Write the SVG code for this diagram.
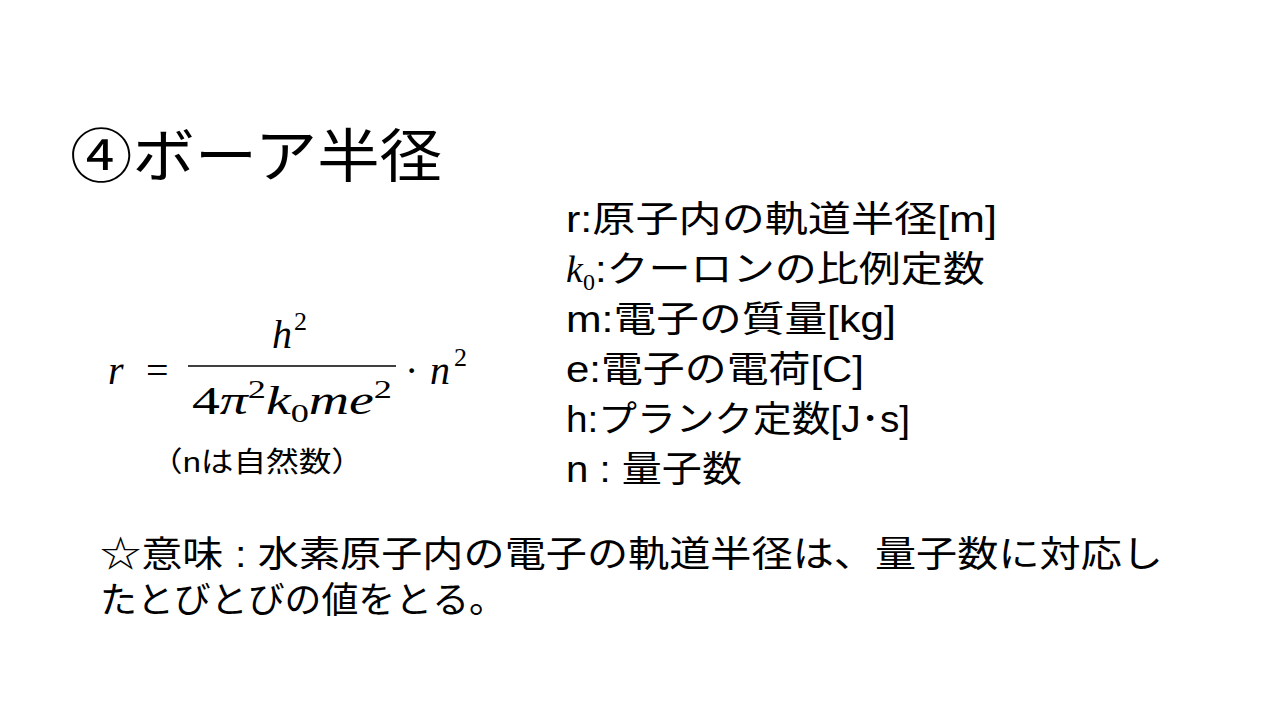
<svg xmlns="http://www.w3.org/2000/svg" width="1280" height="720" viewBox="0 0 1280 720">
<style>
.j{font-family:"Liberation Sans","Noto Sans CJK JP",sans-serif;fill:#000}
.m{font-family:"Liberation Serif","DejaVu Serif",serif;font-style:italic;fill:#000}
.u{font-family:"Liberation Serif","DejaVu Serif",serif;fill:#000}
</style>
<rect width="1280" height="720" fill="#fff"/>
<text class="j" x="70" y="177" font-size="58" textLength="372" lengthAdjust="spacingAndGlyphs">④ボーア半径</text>
<g font-size="36">
<text class="j" x="566" y="232" textLength="431" lengthAdjust="spacingAndGlyphs">r:原子内の軌道半径[m]</text>
<text x="566" y="282"><tspan class="m" font-size="38">k</tspan><tspan class="u" font-size="24" dy="8">0</tspan><tspan class="j" dy="-8" textLength="390" lengthAdjust="spacingAndGlyphs">:クーロンの比例定数</tspan></text>
<text class="j" x="566" y="332" textLength="330" lengthAdjust="spacingAndGlyphs">m:電子の質量[kg]</text>
<text class="j" x="566" y="382" textLength="298" lengthAdjust="spacingAndGlyphs">e:電子の電荷[C]</text>
<text class="j" x="566" y="432" textLength="344" lengthAdjust="spacingAndGlyphs">h:プランク定数[J･s]</text>
<text class="j" x="566" y="482" textLength="176" lengthAdjust="spacingAndGlyphs">n : 量子数</text>
</g>
<g font-size="40">
<text class="m" x="108" y="384">r</text>
<text class="u" x="146" y="384">=</text>
<text class="m" x="272" y="348">h</text><text class="u" x="294" y="330" font-size="26">2</text>
<line x1="188" y1="366" x2="396" y2="366" stroke="#000" stroke-width="1.5"/>
<text x="192" y="414" textLength="200" lengthAdjust="spacingAndGlyphs"><tspan class="u">4</tspan><tspan class="m">π</tspan><tspan class="u" font-size="26" dy="-16">2</tspan><tspan class="m" dy="16">k</tspan><tspan class="u" font-size="26" dy="8">0</tspan><tspan class="m" dy="-8">me</tspan><tspan class="u" font-size="26" dy="-16">2</tspan></text>
<text class="u" x="405" y="384">·</text>
<text class="m" x="430" y="384">n</text><text class="u" x="454" y="366" font-size="26">2</text>
</g>
<text class="j" x="150" y="472" font-size="28" textLength="214" lengthAdjust="spacingAndGlyphs">（nは自然数）</text>
<g font-size="36">
<text class="j" x="100" y="567" textLength="1063" lengthAdjust="spacingAndGlyphs">☆意味 : 水素原子内の電子の軌道半径は、量子数に対応し</text>
<text class="j" x="100" y="613" textLength="406" lengthAdjust="spacingAndGlyphs">たとびとびの値をとる。</text>
</g>
</svg>
